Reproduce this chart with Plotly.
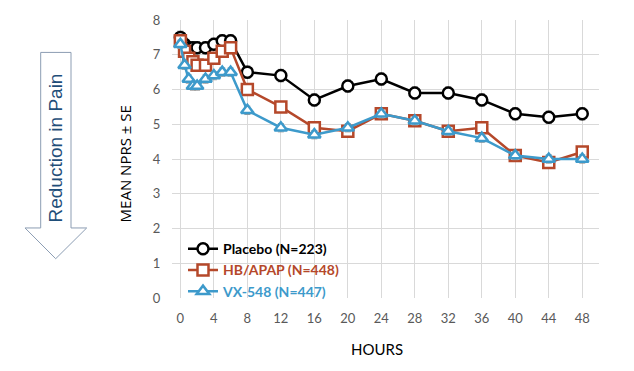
import plotly.graph_objects as go

# ---- data ----
hours = [0, 0.5, 1, 1.5, 2, 3, 4, 5, 6, 8, 12, 16, 20, 24, 28, 32, 36, 40, 44, 48]
placebo = [7.5, 7.3, 7.2, 7.2, 7.2, 7.2, 7.3, 7.4, 7.4, 6.5, 6.4, 5.7, 6.1, 6.3, 5.9, 5.9, 5.7, 5.3, 5.2, 5.3]
hb_apap = [7.4, 7.1, 6.9, 6.8, 6.7, 6.7, 6.9, 7.1, 7.2, 6.0, 5.5, 4.9, 4.8, 5.3, 5.1, 4.8, 4.9, 4.1, 3.9, 4.2]
vx548 = [7.3, 6.7, 6.3, 6.1, 6.1, 6.3, 6.4, 6.5, 6.5, 5.4, 4.9, 4.7, 4.9, 5.3, 5.1, 4.8, 4.6, 4.1, 4.0, 4.0]
placebo_se = [0.18] * len(hours)
hb_se = [0.12] * len(hours)
vx_se = [0.12] * len(hours)
series_names = ["Placebo (N=223)", "HB/APAP (N=448)", "VX-548 (N=447)"]
x_ticks = [0, 4, 8, 12, 16, 20, 24, 28, 32, 36, 40, 44, 48]
y_ticks = [0, 1, 2, 3, 4, 5, 6, 7, 8]

W, H = 634, 371
L, R, T, B = 172, 35, 15, 73
PW, PH = W - L - R, H - T - B


def px(x):
    return (x - L) / PW


def py(y):
    return (H - B - y) / PH


colors = ["#000000", "#B5482A", "#3D9ACB"]
symbols = ["circle", "square", "triangle-up"]
series = [placebo, hb_apap, vx548]
ses = [placebo_se, hb_se, vx_se]

fig = go.Figure()
for name, ys, se, c, s in zip(series_names, series, ses, colors, symbols):
    fig.add_trace(go.Scatter(
        x=hours, y=ys, mode="lines+markers",
        name=f"<span style='color:{c}'><b>{name}</b></span>",
        line=dict(color=c, width=2.5),
        marker=dict(symbol=s, size=11, color="white", line=dict(color=c, width=2.5)),
        error_y=dict(type="data", array=se, color="#9a9a9a", thickness=1, width=3),
    ))

fig.update_layout(
    width=W, height=H,
    margin=dict(l=L, r=R, t=T, b=B),
    paper_bgcolor="white", plot_bgcolor="white",
    font=dict(family="Lato, Open Sans, sans-serif", color="#595959", size=13),
    showlegend=True,
    legend=dict(x=px(183), y=py(232), xanchor="left", yanchor="top",
                bgcolor="rgba(0,0,0,0)", font=dict(size=14, color="#000000"),
                tracegroupgap=0, itemwidth=30),
    xaxis=dict(range=[-1, 50], tickvals=x_ticks, showgrid=True, gridcolor="#D9D9D9",
               gridwidth=1, zeroline=False, showline=False, ticks="outside",
               ticklen=8, tickcolor="rgba(0,0,0,0)", fixedrange=True),
    yaxis=dict(range=[0, 8], tickvals=y_ticks, showgrid=True, gridcolor="#D9D9D9",
               gridwidth=1, zeroline=False, showline=False, ticks="outside",
               ticklen=8, tickcolor="rgba(0,0,0,0)", fixedrange=True),
)

# axis titles
fig.add_annotation(text="HOURS", xref="paper", yref="paper", x=px(377), y=py(350),
                   showarrow=False, font=dict(size=15, color="#000000"),
                   xanchor="center", yanchor="middle")
fig.add_annotation(text="MEAN NPRS ± SE", xref="paper", yref="paper", x=px(125), y=py(162),
                   showarrow=False, textangle=-90,
                   font=dict(size=15, color="#000000", family="Open Sans"),
                   xanchor="center", yanchor="middle")

# big arrow on the left
pts = [(40.7, 48), (71, 48), (71, 226.7), (86.7, 226.7), (55.7, 258), (25, 226.7), (40.7, 226.7)]
path = "M " + " L ".join(f"{px(a):.5f},{py(b):.5f}" for a, b in pts) + " Z"
fig.add_shape(type="path", path=path, xref="paper", yref="paper",
              line=dict(color="#8C9DB3", width=1), fillcolor="white", layer="above")
fig.add_annotation(text="Reduction in Pain", xref="paper", yref="paper", x=px(55.8), y=py(145),
                   showarrow=False, textangle=-90,
                   font=dict(size=19, color="#1F4E79", family="Liberation Sans, Arial"),
                   xanchor="center", yanchor="middle")

fig.write_html("out.html", config={"displayModeBar": False},
               post_script="document.body.style.margin='0px';")
